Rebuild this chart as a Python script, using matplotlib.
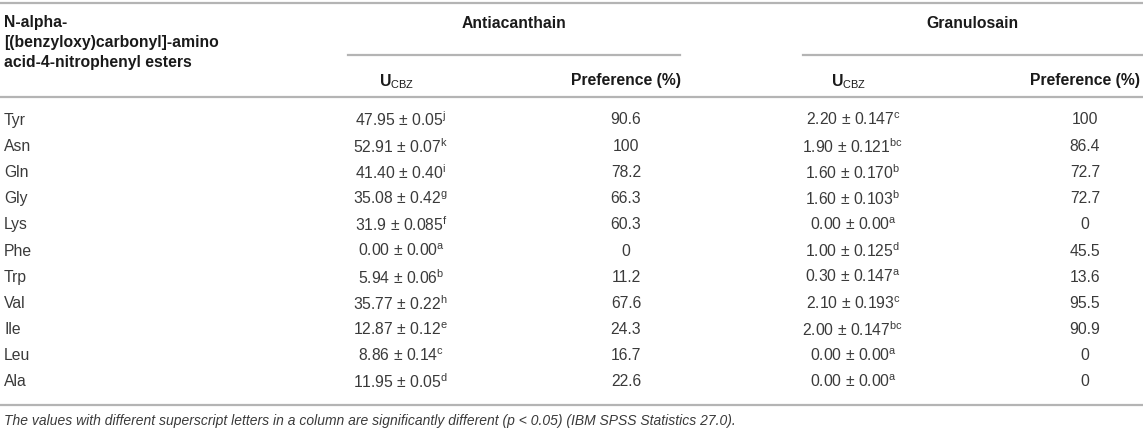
import matplotlib
matplotlib.use("Agg")
import matplotlib.pyplot as plt
from matplotlib.lines import Line2D

# Dados da tabela
amino = ["Tyr", "Asn", "Gln", "Gly", "Lys", "Phe", "Trp", "Val", "Ile", "Leu", "Ala"]
anti_mean = ["47.95", "52.91", "41.40", "35.08", "31.9", "0.00", "5.94", "35.77", "12.87", "8.86", "11.95"]
anti_sd = ["0.05", "0.07", "0.40", "0.42", "0.085", "0.00", "0.06", "0.22", "0.12", "0.14", "0.05"]
anti_letra = ["j", "k", "i", "g", "f", "a", "b", "h", "e", "c", "d"]
anti_pref = ["90.6", "100", "78.2", "66.3", "60.3", "0", "11.2", "67.6", "24.3", "16.7", "22.6"]
gran_mean = ["2.20", "1.90", "1.60", "1.60", "0.00", "1.00", "0.30", "2.10", "2.00", "0.00", "0.00"]
gran_sd = ["0.147", "0.121", "0.170", "0.103", "0.00", "0.125", "0.147", "0.193", "0.147", "0.00", "0.00"]
gran_letra = ["c", "bc", "b", "b", "a", "d", "a", "c", "bc", "a", "a"]
gran_pref = ["100", "86.4", "72.7", "72.7", "0", "45.5", "13.6", "95.5", "90.9", "0", "0"]

grupos = ["Antiacanthain", "Granulosain"]
titulo_col1 = ["N-alpha-", "[(benzyloxy)carbonyl]-amino", "acid-4-nitrophenyl esters"]
nota = ("The values with different superscript letters in a column are significantly "
        "different (p < 0.05) (IBM SPSS Statistics 27.0).")

plt.rcParams["font.family"] = ["Liberation Sans", "DejaVu Sans"]
plt.rcParams["mathtext.fontset"] = "custom"
plt.rcParams["mathtext.rm"] = "Liberation Sans"
plt.rcParams["mathtext.it"] = "Liberation Sans:italic"
plt.rcParams["mathtext.bf"] = "Liberation Sans:bold"

W, H = 1143, 432
fig = plt.figure(figsize=(W / 100, H / 100), dpi=100, facecolor="white")


def px(x, y):
    return x / W, 1 - y / H


def texto(x, y, s, **kw):
    fx, fy = px(x, y)
    fig.text(fx, fy, s, va="center", **kw)


def linha(x0, x1, y, cor="#b4b4b4", lw=1.6):
    a = px(x0, y)
    b = px(x1, y)
    fig.add_artist(Line2D([a[0], b[0]], [a[1], b[1]], color=cor, lw=lw))


cor_txt = "#3a3a3a"
cor_cab = "#1a1a1a"
fs = 11.3

# Linhas horizontais
linha(0, W, 3)
linha(348, 680, 55)
linha(803, W, 55)
linha(0, W, 97)
linha(0, W, 405)

# Cabeçalho
for i, s in enumerate(titulo_col1):
    texto(4, 23 + i * 19.5, s, ha="left", fontsize=fs, fontweight="bold", color=cor_cab)
texto(514, 23, grupos[0], ha="center", fontsize=fs, fontweight="bold", color=cor_cab)
texto(972, 23, grupos[1], ha="center", fontsize=fs, fontweight="bold", color=cor_cab)

col_u = [401, 853]
col_u_cab = [397, 849]
col_p = [626, 1085]
for k in range(2):
    texto(col_u_cab[k], 82, r"U$_{\mathrm{CBZ}}$", ha="center", fontsize=fs, fontweight="bold", color=cor_cab)
    texto(col_p[k], 80, "Preference (%)", ha="center", fontsize=fs, fontweight="bold", color=cor_cab)

# Linhas de dados
y0, dy = 120, 26.2
for i in range(len(amino)):
    y = y0 + i * dy
    texto(4, y, amino[i], ha="left", fontsize=fs, color=cor_txt)
    texto(col_u[0], y, anti_mean[i] + r" $\pm$ " + anti_sd[i] + r"$^{\mathrm{" + anti_letra[i] + "}}$",
          ha="center", fontsize=fs, color=cor_txt)
    texto(col_p[0], y, anti_pref[i], ha="center", fontsize=fs, color=cor_txt)
    texto(col_u[1], y, gran_mean[i] + r" $\pm$ " + gran_sd[i] + r"$^{\mathrm{" + gran_letra[i] + "}}$",
          ha="center", fontsize=fs, color=cor_txt)
    texto(col_p[1], y, gran_pref[i], ha="center", fontsize=fs, color=cor_txt)

# Nota de rodapé
texto(4, 421, nota, ha="left", fontsize=10, style="italic", color=cor_txt)

fig.savefig("out.png", dpi=100, facecolor="white")
plt.close(fig)
